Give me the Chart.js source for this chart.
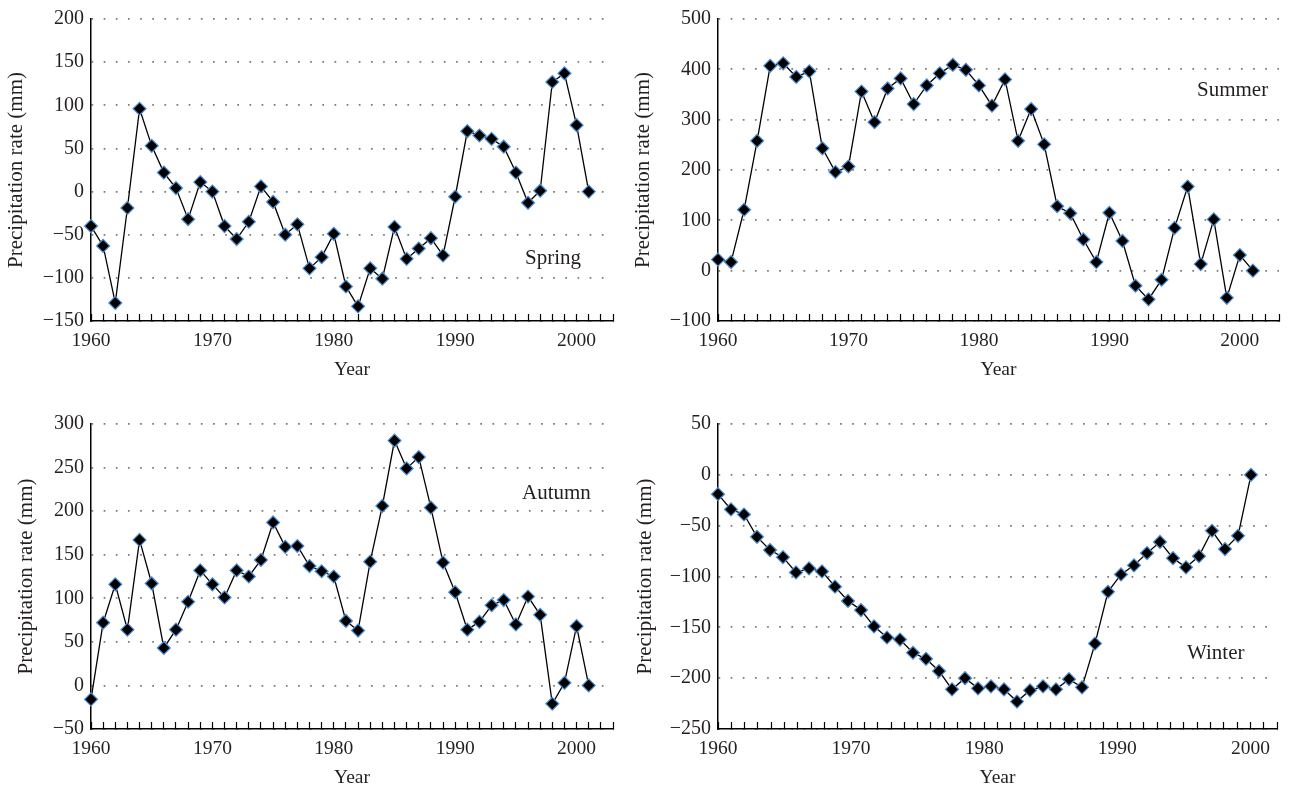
<!DOCTYPE html>
<html>
<head>
<meta charset="utf-8">
<title>Seasonal precipitation rate</title>
<script src="https://cdn.jsdelivr.net/npm/chart.js@4"></script>
<style>
  html, body { margin: 0; padding: 0; background: #fff; }
  body { width: 1294px; height: 791px; position: relative; overflow: hidden; }
  .panel { position: absolute; }
</style>
</head>
<body>
<div class="panel" style="left:0;top:0;width:647px;height:395px"><canvas id="springChart"></canvas></div>
<div class="panel" style="left:627px;top:0;width:667px;height:395px"><canvas id="summerChart"></canvas></div>
<div class="panel" style="left:0;top:395px;width:647px;height:396px"><canvas id="autumnChart"></canvas></div>
<div class="panel" style="left:627px;top:395px;width:667px;height:396px"><canvas id="winterChart"></canvas></div>

<script>
// ---------- data ----------
const years = [1960, 1961, 1962, 1963, 1964, 1965, 1966, 1967, 1968, 1969,
               1970, 1971, 1972, 1973, 1974, 1975, 1976, 1977, 1978, 1979,
               1980, 1981, 1982, 1983, 1984, 1985, 1986, 1987, 1988, 1989,
               1990, 1991, 1992, 1993, 1994, 1995, 1996, 1997, 1998, 1999,
               2000, 2001];

const spring = [-40, -63, -129, -19, 96, 53, 22, 4, -32, 11,
                0, -40, -55, -35, 6, -12, -50, -38, -89, -76,
                -49, -110, -133, -89, -101, -41, -78, -66, -54, -74,
                -6, 70, 65, 61, 52, 22, -13, 1, 127, 137,
                77, 0];

const summer = [22, 17, 121, 258, 407, 412, 385, 396, 243, 196,
                207, 356, 295, 362, 382, 331, 368, 392, 409, 399,
                368, 328, 380, 258, 321, 251, 128, 114, 62, 17,
                115, 59, -30, -57, -18, 85, 167, 13, 102, -54,
                31, 0];

const autumn = [-16, 72, 116, 64, 167, 117, 43, 64, 96, 132,
                116, 101, 132, 125, 144, 187, 159, 160, 137, 131,
                125, 74, 63, 142, 206, 281, 249, 262, 204, 141,
                107, 64, 73, 92, 98, 70, 102, 81, -21, 3,
                68, 0];

const winter = [-19, -34, -39, -61, -74, -81, -96, -92, -95, -110,
                -124, -133, -149, -160, -162, -175, -181, -193, -211, -200,
                -210, -208, -211, -223, -212, -208, -211, -201, -209, -166,
                -115, -98, -89, -77, -66, -82, -91, -80, -55, -73,
                -60, 0];

// ---------- shared style ----------
const TEXT = '#231f20';
const FONT = '"Liberation Serif", "DejaVu Serif", serif';
Chart.defaults.font.family = FONT;
Chart.defaults.color = TEXT;

const minus = v => (v < 0 ? '\u2212' + Math.abs(v) : String(v));

// season name written inside the plot
const seasonLabel = {
  id: 'seasonLabel',
  afterDraw(chart, args, opts) {
    const ctx = chart.ctx;
    ctx.save();
    ctx.font = '21px ' + FONT;
    ctx.fillStyle = TEXT;
    ctx.textBaseline = 'middle';
    ctx.textAlign = 'left';
    ctx.fillText(opts.text, opts.x, opts.y);
    ctx.restore();
  }
};

function xAxis(max, cfg) {
  return {
    type: 'linear',
    min: 1960,
    max: max,
    afterFit: s => { s.height = cfg.xHeight; },
    ticks: {
      stepSize: 1,
      autoSkip: false,
      maxRotation: 0,
      padding: 15,
      color: TEXT,
      font: { size: 19.5 },
      callback: v => (v % 10 === 0 ? String(v) : '')
    },
    grid: {
      drawOnChartArea: false,
      drawTicks: true,
      tickLength: -7,
      tickColor: '#000',
      tickWidth: 1.2
    },
    border: { display: true, color: '#000', width: 1.5 },
    title: {
      display: true,
      text: 'Year',
      color: TEXT,
      font: { size: 19.5, lineHeight: 1 },
      padding: { top: 0, bottom: cfg.xTitlePad }
    }
  };
}

function makeChart(id, values, cfg) {
  const points = years.map((yr, i) => ({ x: yr, y: values[i] }));

  const scales = {
    x: xAxis(cfg.xMax, cfg),
    y: {
      min: cfg.yMin,
      max: cfg.yMax,
      afterFit: s => { s.width = cfg.yWidth; },
      ticks: {
        stepSize: cfg.yStep,
        padding: 7,
        color: TEXT,
        font: { size: 20 },
        callback: v => minus(v)
      },
      grid: {
        color: '#7a7a7a',
        lineWidth: 1.7,
        drawTicks: false
      },
      border: { display: true, color: '#000', width: 1.5, dash: [1.7, 10.45] },
      title: {
        display: true,
        text: 'Precipitation rate (mm)',
        color: TEXT,
        font: { size: 21, lineHeight: 1 },
        padding: { top: cfg.yTitlePad, bottom: 0 }
      }
    }
  };

  // winter: the points run on their own (hidden) year scale
  if (cfg.dataMax) {
    scales.xd = { type: 'linear', display: false, min: 1960, max: cfg.dataMax };
  }

  return new Chart(document.getElementById(id), {
    type: 'line',
    data: {
      datasets: [{
        label: cfg.name,
        data: points,
        xAxisID: cfg.dataMax ? 'xd' : 'x',
        borderColor: '#000',
        borderWidth: 1.3,
        tension: 0,
        clip: false,
        pointStyle: 'rectRot',
        pointRadius: 6.5,
        pointBackgroundColor: '#000',
        pointBorderColor: '#4d8fd6',
        pointBorderWidth: 1.2
      }]
    },
    options: {
      responsive: true,
      maintainAspectRatio: false,
      animation: false,
      layout: { padding: { top: cfg.padTop, right: cfg.padRight, left: 0, bottom: 0 } },
      plugins: {
        legend: { display: false },
        tooltip: { enabled: false },
        seasonLabel: { text: cfg.name, x: cfg.labelX, y: cfg.labelY }
      },
      scales
    },
    plugins: [seasonLabel]
  });
}

// ---------- the four panels ----------
makeChart('springChart', spring, {
  name: 'Spring', yMin: -150, yMax: 200, yStep: 50, xMax: 2003,
  padTop: 18, padRight: 34, yWidth: 91, xHeight: 74,
  yTitlePad: 5.5, xTitlePad: 15.5, labelX: 525, labelY: 258
});

makeChart('summerChart', summer, {
  name: 'Summer', yMin: -100, yMax: 500, yStep: 100, xMax: 2003,
  padTop: 18.5, padRight: 3, yWidth: 91, xHeight: 74,
  yTitlePad: 6, xTitlePad: 15.5, labelX: 570, labelY: 90
});

makeChart('autumnChart', autumn, {
  name: 'Autumn', yMin: -50, yMax: 300, yStep: 50, xMax: 2003,
  padTop: 29, padRight: 34, yWidth: 91, xHeight: 62,
  yTitlePad: 15.5, xTitlePad: 3.2, labelX: 522, labelY: 98
});

makeChart('winterChart', winter, {
  name: 'Winter', yMin: -250, yMax: 50, yStep: 50, xMax: 2002, dataMax: 2003,
  padTop: 29, padRight: 17, yWidth: 91, xHeight: 62,
  yTitlePad: 7.5, xTitlePad: 3.2, labelX: 560, labelY: 258
});
</script>
</body>
</html>
